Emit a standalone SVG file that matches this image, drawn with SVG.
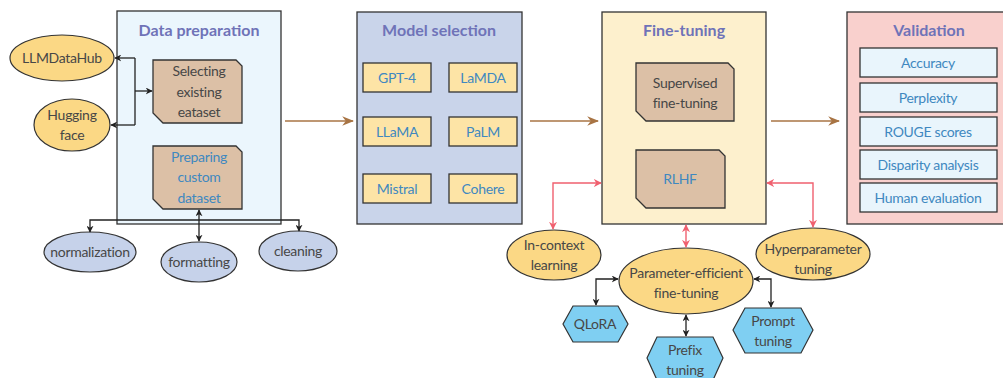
<svg xmlns="http://www.w3.org/2000/svg" width="1003" height="378" viewBox="0 0 1003 378">
<defs>
<style>
text{font-family:Lato,"Open Sans","Liberation Sans",sans-serif;font-size:14px;letter-spacing:-0.3px;text-anchor:middle}
.title{font-weight:bold;font-size:16px;letter-spacing:0;fill:#6f73b8}
.dk{fill:#474747}
.bl{fill:#4088c0}
.stage{stroke:#333;stroke-width:1.3}
.tan{fill:#dcc0a6;stroke:#333;stroke-width:1.3}
.yel{fill:#fbd885;stroke:#333;stroke-width:1.2}
.lav{fill:#c6d2ea;stroke:#333;stroke-width:1.2}
.hex{fill:#7fcff2;stroke:#333;stroke-width:1.2}
.mbox{fill:#fde4a6;stroke:#333;stroke-width:1.3}
.vbox{fill:#e9f5fc;stroke:#333;stroke-width:1.3}
.k{stroke:#222;stroke-width:1.3;fill:none}
.r{stroke:#f0606f;stroke-width:1.4;fill:none}
.br{stroke:#a87444;stroke-width:1.6;fill:none}
</style>
<marker id="ak" viewBox="0 0 10 10" refX="9" refY="5" markerWidth="7" markerHeight="7" orient="auto-start-reverse" markerUnits="userSpaceOnUse"><path d="M0,0 L10,5 L0,10 L3,5 z" fill="#222"/></marker>
<marker id="ar" viewBox="0 0 10 10" refX="9" refY="5" markerWidth="8" markerHeight="8" orient="auto-start-reverse" markerUnits="userSpaceOnUse"><path d="M0,0 L10,5 L0,10 L3,5 z" fill="#f0606f"/></marker>
<marker id="ab" viewBox="0 0 10 10" refX="9" refY="5" markerWidth="12" markerHeight="12" orient="auto" markerUnits="userSpaceOnUse"><path d="M0,1 L10,5 L0,9 L3,5 z" fill="#a87444"/></marker>
</defs>
<rect width="1003" height="378" fill="#fff"/>

<g id="data-preparation">
<rect class="stage" x="117" y="11" width="164" height="213" fill="#ebf6fd"/>
<text class="title" x="199" y="36">Data preparation</text>
</g>
<g id="selecting">
<path class="tan" d="M153,60 H236 L242,66 V123 H163 L153,113 Z"/>
<text class="dk" x="199" y="76">Selecting</text>
<text class="dk" x="199" y="97">existing</text>
<text class="dk" x="199" y="117">eataset</text>
</g>
<g id="preparing">
<path class="tan" d="M153,146 H236 L242,152 V209 H163 L153,199 Z"/>
<text class="bl" x="199" y="162">Preparing</text>
<text class="bl" x="199" y="182">custom</text>
<text class="bl" x="199" y="203">dataset</text>
</g>
<g id="llmdatahub"><ellipse class="yel" cx="62" cy="58" rx="52" ry="23"/><text class="dk" x="62" y="63">LLMDataHub</text></g>
<g id="hugging-face"><ellipse class="yel" cx="72" cy="125" rx="38" ry="26"/><text class="dk" x="72" y="120">Hugging</text><text class="dk" x="72" y="140">face</text></g>
<g id="normalization"><ellipse class="lav" cx="90" cy="252" rx="46" ry="20"/><text class="dk" x="90" y="257">normalization</text></g>
<g id="formatting"><ellipse class="lav" cx="199" cy="262" rx="38" ry="20"/><text class="dk" x="199" y="267">formatting</text></g>
<g id="cleaning"><ellipse class="lav" cx="298" cy="251" rx="39" ry="20"/><text class="dk" x="298" y="256">cleaning</text></g>

<g id="model-selection">
<rect class="stage" x="357" y="12" width="165" height="212" fill="#c9d4ea"/>
<text class="title" x="439" y="36">Model selection</text>
</g>
<g id="gpt4"><rect class="mbox" x="363" y="63" width="68" height="29"/><text class="bl" x="397" y="83">GPT-4</text></g>
<g id="lamda"><rect class="mbox" x="449" y="63" width="68" height="29"/><text class="bl" x="483" y="83">LaMDA</text></g>
<g id="llama"><rect class="mbox" x="363" y="117" width="68" height="29"/><text class="bl" x="397" y="137">LLaMA</text></g>
<g id="palm"><rect class="mbox" x="449" y="117" width="68" height="29"/><text class="bl" x="483" y="137">PaLM</text></g>
<g id="mistral"><rect class="mbox" x="363" y="174" width="68" height="29"/><text class="bl" x="397" y="194">Mistral</text></g>
<g id="cohere"><rect class="mbox" x="449" y="174" width="68" height="29"/><text class="bl" x="483" y="194">Cohere</text></g>

<g id="fine-tuning">
<rect class="stage" x="602" y="12" width="164" height="212" fill="#fdf0cd"/>
<text class="title" x="684" y="36">Fine-tuning</text>
</g>
<g id="supervised">
<path class="tan" d="M636,63 H728 L734,69 V121 H646 L636,111 Z"/>
<text class="dk" x="685" y="88">Supervised</text>
<text class="dk" x="685" y="108">fine-tuning</text>
</g>
<g id="rlhf">
<path class="tan" d="M636,150 H719 L725,156 V208 H646 L636,198 Z"/>
<text class="bl" x="680" y="184">RLHF</text>
</g>

<g id="validation">
<rect class="stage" x="847" y="12" width="170" height="212" fill="#f9d0cd"/>
<text class="title" x="929" y="36">Validation</text>
</g>
<g id="accuracy"><rect class="vbox" x="860" y="48" width="137" height="29"/><text class="bl" x="928" y="68">Accuracy</text></g>
<g id="perplexity"><rect class="vbox" x="860" y="83" width="137" height="29"/><text class="bl" x="928" y="103">Perplexity</text></g>
<g id="rouge"><rect class="vbox" x="860" y="117" width="137" height="29"/><text class="bl" x="928" y="137">ROUGE scores</text></g>
<g id="disparity"><rect class="vbox" x="860" y="150" width="137" height="29"/><text class="bl" x="928" y="170">Disparity analysis</text></g>
<g id="human"><rect class="vbox" x="860" y="183" width="137" height="29"/><text class="bl" x="928" y="203">Human evaluation</text></g>

<g id="in-context"><ellipse class="yel" cx="554" cy="255" rx="47" ry="25"/><text class="dk" x="554" y="250">In-context</text><text class="dk" x="554" y="270">learning</text></g>
<g id="hyperparameter"><ellipse class="yel" cx="813" cy="254" rx="57" ry="26"/><text class="dk" x="813" y="254">Hyperparameter</text><text class="dk" x="813" y="274">tuning</text></g>
<g id="peft"><ellipse class="yel" cx="686" cy="281" rx="67" ry="33"/><text class="dk" x="686" y="278">Parameter-efficient</text><text class="dk" x="686" y="298">fine-tuning</text></g>
<g id="qlora"><path class="hex" d="M573,306 H618 L628,324 L618,342 H573 L563,324 Z"/><text class="dk" x="595" y="329">QLoRA</text></g>
<g id="prefix"><path class="hex" d="M657,337 H713 L723,358 L713,380 H657 L647,358 Z"/><text class="dk" x="685" y="355">Prefix</text><text class="dk" x="685" y="375">tuning</text></g>
<g id="prompt"><path class="hex" d="M745,308 H801 L813,330 L801,353 H745 L733,330 Z"/><text class="dk" x="773" y="326">Prompt</text><text class="dk" x="773" y="346">tuning</text></g>

<g id="connectors">
<path class="k" d="M135,58 H115" marker-end="url(#ak)"/>
<path class="k" d="M135,125 H111" marker-end="url(#ak)"/>
<path class="k" d="M135,58 V125"/>
<path class="k" d="M135,91 H152" marker-end="url(#ak)"/>
<path class="k" d="M199,210 V241" marker-start="url(#ak)" marker-end="url(#ak)"/>
<path class="k" d="M90,232 V220 H299 V231" marker-start="url(#ak)" marker-end="url(#ak)"/>
<path class="br" d="M285,121 H353" marker-end="url(#ab)"/>
<path class="br" d="M530,121 H598" marker-end="url(#ab)"/>
<path class="br" d="M771,121 H839" marker-end="url(#ab)"/>
<path class="r" d="M553,229 V183 H601" marker-start="url(#ar)" marker-end="url(#ar)"/>
<path class="r" d="M767,183 H813 V227" marker-start="url(#ar)" marker-end="url(#ar)"/>
<path class="r" d="M686,225 V247" marker-start="url(#ar)" marker-end="url(#ar)"/>
<path class="k" d="M618,279 H596 V305" marker-start="url(#ak)" marker-end="url(#ak)"/>
<path class="k" d="M754,279 H771 V307" marker-start="url(#ak)" marker-end="url(#ak)"/>
<path class="k" d="M686,315 V336" marker-start="url(#ak)" marker-end="url(#ak)"/>
</g>
</svg>
